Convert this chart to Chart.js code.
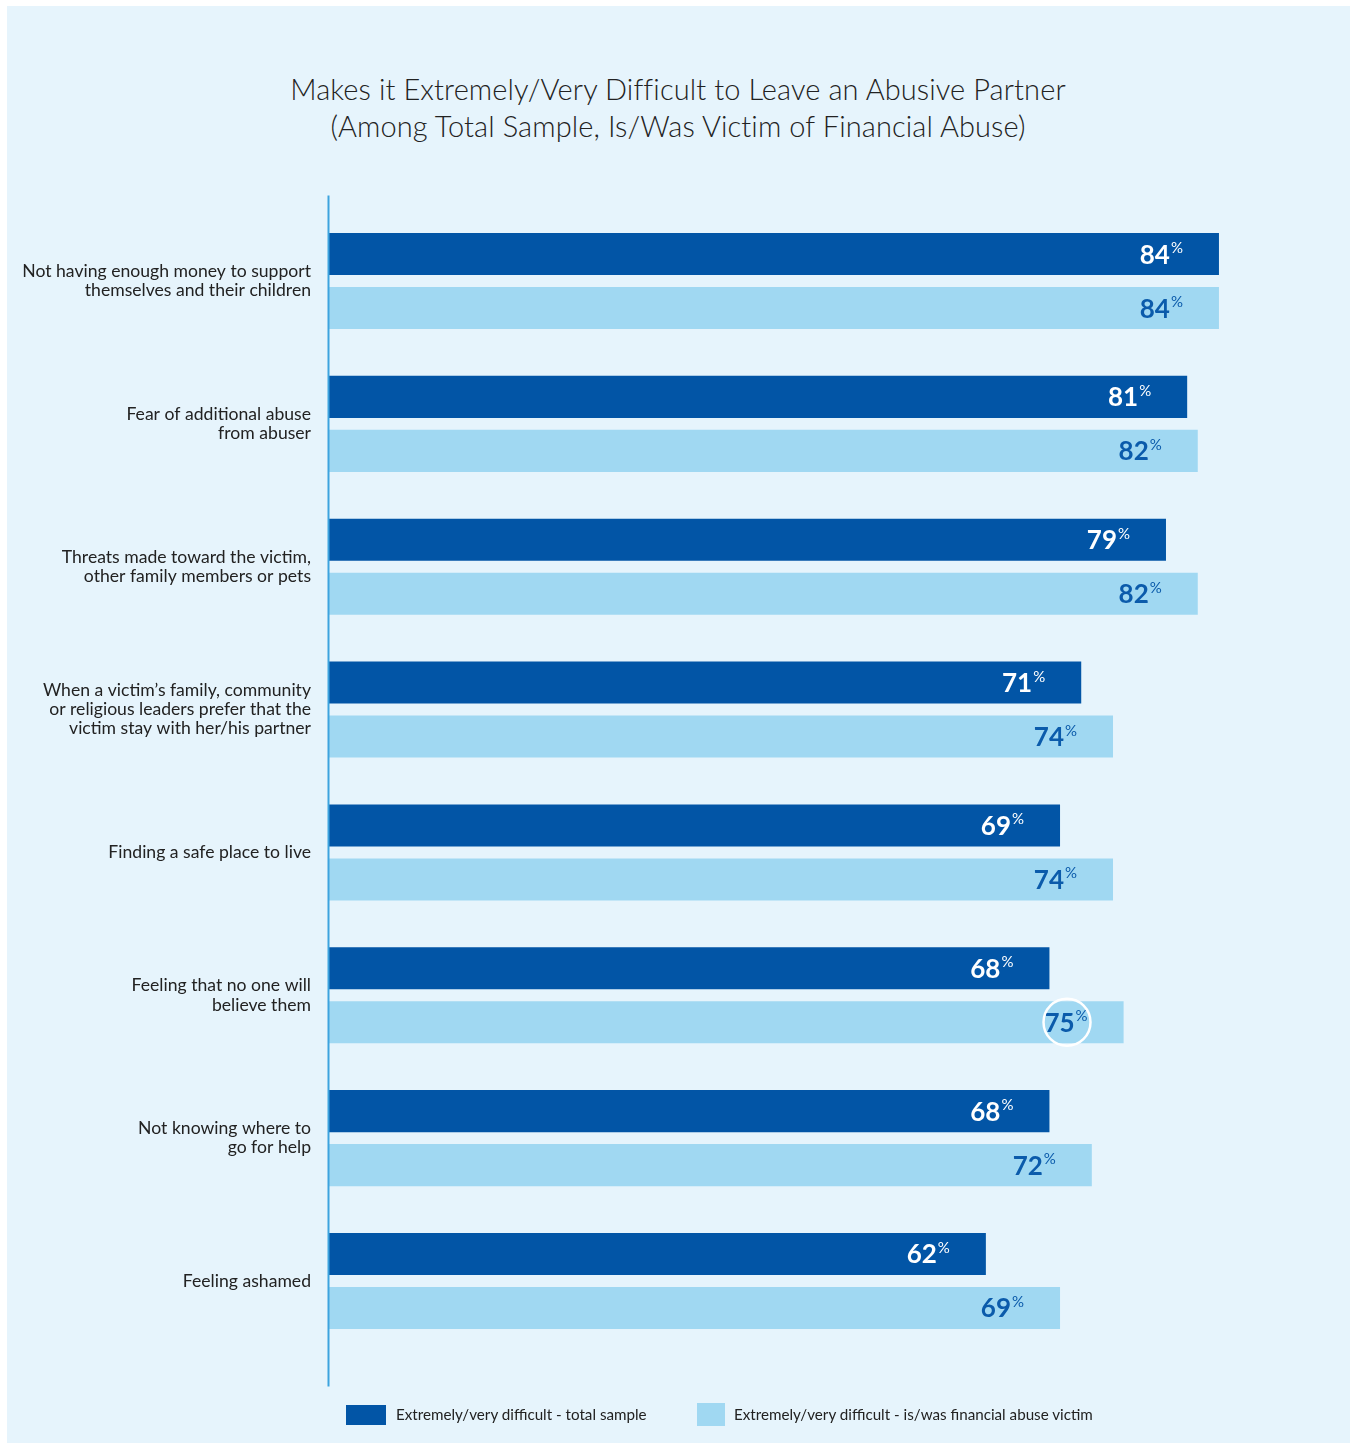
<!DOCTYPE html>
<html>
<head>
<meta charset="utf-8">
<script src="https://cdn.jsdelivr.net/npm/chart.js@4.4.1/dist/chart.umd.min.js"></script>
<style>
  html, body { margin: 0; padding: 0; background: #ffffff; }
  body { width: 1350px; height: 1443px; position: relative; overflow: hidden; font-family: Lato, "Open Sans", sans-serif; }
  #panel { position: absolute; left: 7px; top: 6px; width: 1343px; height: 1437px; background: #E6F4FC; }
  #title { position: absolute; left: 0; top: 70px; width: 1356px; text-align: center; font-size: 29px; line-height: 37px; color: #222; font-weight: 300; letter-spacing: 0.1px; }
  #wrap { position: absolute; left: 0; top: 0; width: 1350px; height: 1443px; }
  .lg { position: absolute; font-size: 15.2px; color: #222; line-height: 20px; }
  .box { position: absolute; }
</style>
</head>
<body>
<div id="panel"></div>
<div id="title">Makes it Extremely/Very Difficult to Leave an Abusive Partner<br>(Among Total Sample, Is/Was Victim of Financial Abuse)</div>
<div id="wrap"><canvas id="c" width="1350" height="1443"></canvas></div>
<div id="legend"></div>
<script>
const categories = [
  ["Not having enough money to support", "themselves and their children"],
  ["Fear of additional abuse", "from abuser"],
  ["Threats made toward the victim,", "other family members or pets"],
  ["When a victim\u2019s family, community", "or religious leaders prefer that the", "victim stay with her/his partner"],
  ["Finding a safe place to live"],
  ["Feeling that no one will", "believe them"],
  ["Not knowing where to", "go for help"],
  ["Feeling ashamed"]
];
const seriesNames = [
  "Extremely/very difficult - total sample",
  "Extremely/very difficult - is/was financial abuse victim"
];
const totalSample = [84, 81, 79, 71, 69, 68, 68, 62];
const financialVictim = [84, 82, 82, 74, 74, 75, 72, 69];
const highlightIndex = 5;

const DARK = "#0255A6";
const LIGHT = "#A0D8F2";
const colors = [DARK, LIGHT];
const labelColors = ["#ffffff", "#0B5BAB"];

// HTML legend
const legendEl = document.getElementById("legend");
const legendSpec = [
  { box: [346, 1405, 40, 20], text: [396, 1404] },
  { box: [697, 1403, 28, 23], text: [734, 1404] }
];
seriesNames.forEach((n, i) => {
  const s = legendSpec[i];
  const b = document.createElement("div");
  b.className = "box";
  b.style.left = s.box[0] + "px"; b.style.top = s.box[1] + "px";
  b.style.width = s.box[2] + "px"; b.style.height = s.box[3] + "px";
  b.style.background = colors[i];
  legendEl.appendChild(b);
  const t = document.createElement("div");
  t.className = "lg";
  t.style.left = s.text[0] + "px"; t.style.top = s.text[1] + "px";
  t.textContent = n;
  legendEl.appendChild(t);
});

const valueLabels = {
  id: "valueLabels",
  afterDatasetsDraw(chart) {
    const ctx = chart.ctx;
    chart.data.datasets.forEach((ds, di) => {
      const meta = chart.getDatasetMeta(di);
      meta.data.forEach((bar, i) => {
        const v = ds.data[i];
        const num = String(v);
        ctx.save();
        ctx.font = "700 26px Lato";
        const nw = ctx.measureText(num).width;
        ctx.font = "400 15px Lato";
        const pw = ctx.measureText("%").width;
        const right = bar.x - 36;
        const left = right - nw - pw - 1;
        ctx.fillStyle = labelColors[di];
        ctx.textBaseline = "alphabetic";
        ctx.textAlign = "left";
        ctx.font = "700 26px Lato";
        ctx.fillText(num, left, bar.y + 9.5);
        ctx.font = "400 15px Lato";
        ctx.fillText("%", left + nw + 1, bar.y - 1);
        if (di === 1 && i === highlightIndex) {
          ctx.beginPath();
          ctx.strokeStyle = "#ffffff";
          ctx.lineWidth = 2.5;
          ctx.arc((left + right) / 2 + 1, bar.y, 23.5, 0, Math.PI * 2);
          ctx.stroke();
        }
        ctx.restore();
      });
    });
  }
};

const axisLine = {
  id: "axisLine",
  afterDatasetsDraw(chart) {
    const { ctx, chartArea } = chart;
    ctx.save();
    ctx.strokeStyle = "#3DA3DE";
    ctx.lineWidth = 2;
    ctx.beginPath();
    ctx.moveTo(chartArea.left - 0.5, chartArea.top - 14);
    ctx.lineTo(chartArea.left - 0.5, chartArea.bottom + 34);
    ctx.stroke();
    ctx.restore();
  }
};

new Chart(document.getElementById("c"), {
  type: "bar",
  data: {
    labels: categories,
    datasets: [
      { label: seriesNames[0], data: totalSample, backgroundColor: DARK, borderWidth: 0 },
      { label: seriesNames[1], data: financialVictim, backgroundColor: LIGHT, borderWidth: 0 }
    ]
  },
  options: {
    indexAxis: "y",
    responsive: false,
    animation: false,
    devicePixelRatio: 1,
    categoryPercentage: 0.756,
    barPercentage: 0.778,
    layout: { padding: { top: 209.6, bottom: 90.6, left: 0, right: 14.5 } },
    plugins: { legend: { display: false }, tooltip: { enabled: false }, title: { display: false } },
    scales: {
      x: { display: false, min: 0, max: 95 },
      y: {
        afterFit(scale) { scale.width = 329; },
        grid: { display: false, drawTicks: false },
        border: { display: false },
        ticks: {
          padding: 18,
          color: "#222222",
          font: { family: "Lato", size: 17.6, lineHeight: 1.09 }
        }
      }
    }
  },
  plugins: [axisLine, valueLabels]
});
</script>
</body>
</html>
